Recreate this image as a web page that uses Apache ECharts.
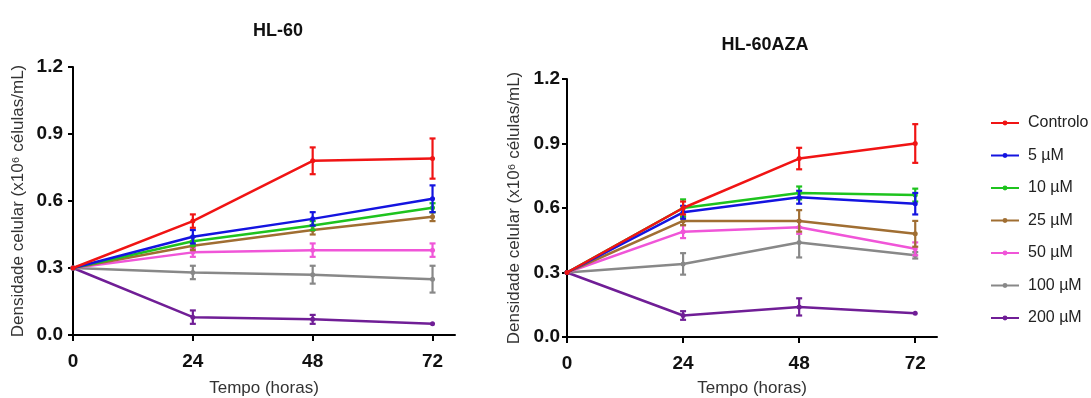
<!DOCTYPE html>
<html>
<head>
<meta charset="utf-8">
<script src="https://cdn.jsdelivr.net/npm/echarts@6/dist/echarts.min.js"></script>
<style>
html,body{margin:0;padding:0;background:#fff;}
#chart{width:1091px;height:398px;}
</style>
</head>
<body>
<div id="chart"></div>
<script>
// ---- data ----
const hours = [0, 24, 48, 72];
const hourTicks = [0, 24, 48, 72];
const yTicks = [0, 0.3, 0.6, 0.9, 1.2];
const seriesNames = ['Controlo', '5 µM', '10 µM', '25 µM', '50 µM', '100 µM', '200 µM'];

// HL-60 means
const hl60_controlo = [0.30, 0.51, 0.78, 0.79];
const hl60_5 = [0.30, 0.44, 0.52, 0.61];
const hl60_10 = [0.30, 0.42, 0.49, 0.57];
const hl60_25 = [0.30, 0.40, 0.47, 0.53];
const hl60_50 = [0.30, 0.37, 0.38, 0.38];
const hl60_100 = [0.30, 0.28, 0.27, 0.25];
const hl60_200 = [0.30, 0.08, 0.07, 0.05];
// HL-60 errors
const hl60_controlo_err = [0, 0.03, 0.06, 0.09];
const hl60_5_err = [0, 0.03, 0.03, 0.06];
const hl60_10_err = [0, 0.02, 0.02, 0.02];
const hl60_25_err = [0, 0.02, 0.02, 0.02];
const hl60_50_err = [0, 0.02, 0.03, 0.03];
const hl60_100_err = [0, 0.03, 0.04, 0.06];
const hl60_200_err = [0, 0.03, 0.02, 0];

// HL-60AZA means
const aza_controlo = [0.30, 0.60, 0.83, 0.90];
const aza_5 = [0.30, 0.58, 0.65, 0.62];
const aza_10 = [0.30, 0.60, 0.67, 0.66];
const aza_25 = [0.30, 0.54, 0.54, 0.48];
const aza_50 = [0.30, 0.49, 0.51, 0.41];
const aza_100 = [0.30, 0.34, 0.44, 0.38];
const aza_200 = [0.30, 0.10, 0.14, 0.11];
// HL-60AZA errors
const aza_controlo_err = [0, 0.03, 0.05, 0.09];
const aza_5_err = [0, 0.03, 0.03, 0.05];
const aza_10_err = [0, 0.04, 0.03, 0.03];
const aza_25_err = [0, 0.02, 0.05, 0.06];
const aza_50_err = [0, 0.03, 0.03, 0.03];
const aza_100_err = [0, 0.05, 0.07, 0.015];
const aza_200_err = [0, 0.02, 0.04, 0];

const colors = ['#f01414', '#1414e0', '#1ec31e', '#a06e32', '#f055d8', '#888888', '#701e96'];

const hl60Means = [hl60_controlo, hl60_5, hl60_10, hl60_25, hl60_50, hl60_100, hl60_200];
const hl60Errs = [hl60_controlo_err, hl60_5_err, hl60_10_err, hl60_25_err, hl60_50_err, hl60_100_err, hl60_200_err];
const azaMeans = [aza_controlo, aza_5, aza_10, aza_25, aza_50, aza_100, aza_200];
const azaErrs = [aza_controlo_err, aza_5_err, aza_10_err, aza_25_err, aza_50_err, aza_100_err, aza_200_err];

const FONT = '"Liberation Sans", Arial, sans-serif';

function errRender(color) {
  return function (params, api) {
    const x = api.value(0), lo = api.value(1), hi = api.value(2);
    if (hi - lo <= 0) return null;
    const pt = api.coord([x, hi]);
    const pb = api.coord([x, lo]);
    const w = 3;
    const st = { stroke: color, lineWidth: 2.2 };
    return {
      type: 'group',
      children: [
        { type: 'line', shape: { x1: pt[0], y1: pt[1], x2: pb[0], y2: pb[1] }, style: st },
        { type: 'line', shape: { x1: pt[0] - w, y1: pt[1], x2: pt[0] + w, y2: pt[1] }, style: st },
        { type: 'line', shape: { x1: pb[0] - w, y1: pb[1], x2: pb[0] + w, y2: pb[1] }, style: st }
      ]
    };
  };
}

function buildSeries(means, errs, idx) {
  const out = [];
  for (let i = 0; i < seriesNames.length; i++) {
    const z = 20 - i;
    out.push({
      type: 'line',
      name: seriesNames[i],
      xAxisIndex: idx, yAxisIndex: idx,
      data: hours.map((h, k) => [h, means[i][k]]),
      symbol: 'circle', symbolSize: 5,
      lineStyle: { width: 2.5, color: colors[i] },
      itemStyle: { color: colors[i] },
      z: z,
      animation: false
    });
    out.push({
      type: 'custom',
      name: seriesNames[i] + ' err' + idx,
      xAxisIndex: idx, yAxisIndex: idx,
      renderItem: errRender(colors[i]),
      encode: { x: 0, y: [1, 2] },
      data: hours.map((h, k) => [h, means[i][k] - errs[i][k], means[i][k] + errs[i][k]]),
      z: z,
      silent: true,
      animation: false
    });
  }
  return out;
}

function xAxis(idx, gap) {
  return {
    type: 'value', gridIndex: idx, min: 0, max: 76.5,
    name: 'Tempo (horas)', nameLocation: 'middle', nameGap: gap,
    nameTextStyle: { fontFamily: FONT, fontSize: 17, color: '#333' },
    axisLine: { show: true, onZero: false, lineStyle: { color: '#000', width: 2 } },
    axisTick: { show: true, length: 6, lineStyle: { color: '#000', width: 2 }, customValues: hourTicks },
    axisLabel: { customValues: hourTicks, fontFamily: FONT, fontSize: 19, fontWeight: 'bold', color: '#111', margin: 17 },
    splitLine: { show: false }
  };
}
function yAxis(idx, gap, margin) {
  return {
    type: 'value', gridIndex: idx, min: 0, max: 1.2, interval: 0.3,
    name: 'Densidade celular (x10⁶ células/mL)', nameLocation: 'middle', nameGap: gap,
    nameTextStyle: { fontFamily: FONT, fontSize: 17, color: '#333' },
    axisLine: { show: true, onZero: false, lineStyle: { color: '#000', width: 2 } },
    axisTick: { show: true, length: 5, lineStyle: { color: '#000', width: 2 } },
    axisLabel: { fontFamily: FONT, fontSize: 19, fontWeight: 'bold', color: '#111', margin: margin,
      formatter: v => v.toFixed(1) },
    splitLine: { show: false }
  };
}

const chart = echarts.init(document.getElementById('chart'), null, { renderer: 'canvas' });
chart.setOption({
  backgroundColor: '#fff',
  animation: false,
  title: [
    { text: 'HL-60', left: 273, top: 17, textAlign: 'center',
      textStyle: { fontFamily: FONT, fontSize: 18, fontWeight: 'bold', color: '#111' } },
    { text: 'HL-60AZA', left: 760, top: 31, textAlign: 'center',
      textStyle: { fontFamily: FONT, fontSize: 18, fontWeight: 'bold', color: '#111' } }
  ],
  grid: [
    { left: 73, right: 636, top: 67, bottom: 63, containLabel: false, outerBoundsMode: 'none' },
    { left: 567, right: 154, top: 79, bottom: 61, containLabel: false, outerBoundsMode: 'none' }
  ],
  legend: {
    data: seriesNames,
    orient: 'vertical',
    left: 985, top: 110,
    itemWidth: 28, itemHeight: 6, itemGap: 16.5,
    textStyle: { fontFamily: FONT, fontSize: 16, color: '#222', padding: [0, 0, 0, 4] }
  },
  xAxis: [xAxis(0, 45), xAxis(1, 43)],
  yAxis: [yAxis(0, 46, 10), yAxis(1, 44, 7)],
  series: buildSeries(hl60Means, hl60Errs, 0).concat(buildSeries(azaMeans, azaErrs, 1))
});
</script>
</body>
</html>
